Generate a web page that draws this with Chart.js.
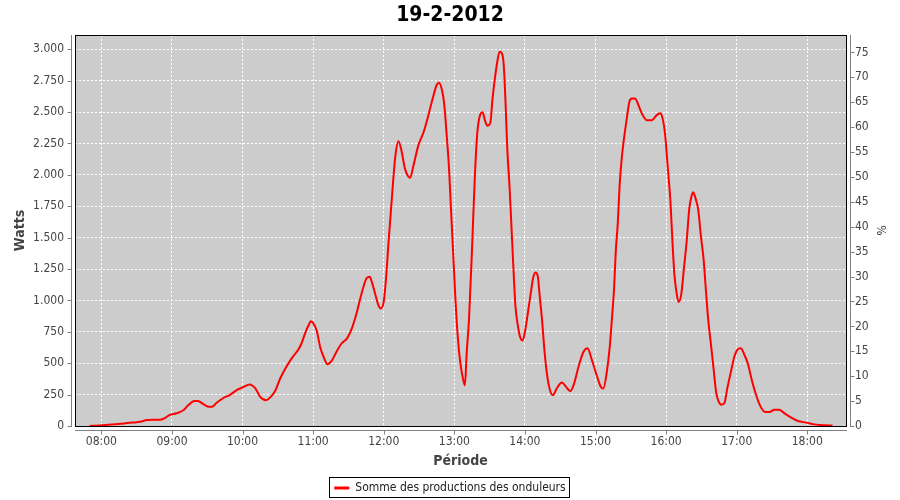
<!DOCTYPE html>
<html>
<head>
<meta charset="utf-8">
<script src="https://cdn.jsdelivr.net/npm/chart.js@4/dist/chart.umd.min.js"></script>
<style>
  html, body { margin: 0; padding: 0; background: #fff; }
</style>
</head>
<body>
<canvas id="chart" width="900" height="500"></canvas>
<script>
const FONT = "'DejaVu Sans Condensed', 'DejaVu Sans', sans-serif";

const chartTitle = "19-2-2012";
const seriesLabel = "Somme des productions des onduleurs";

// time of day in minutes since midnight, and the production read at that time (W)
const minutes = [
  470, 478, 486, 496, 507, 513, 519, 530, 534, 538, 544, 550, 554, 559, 562,
  567, 571, 574, 578, 584, 589, 595, 601, 606, 611, 615, 620, 624, 628, 632,
  638, 643, 647, 650, 653, 656, 658, 660, 663, 666, 669, 672, 676, 680, 684,
  689, 693, 697, 701, 705.5, 708, 710, 712.5, 715.5, 717.5, 720, 722, 724, 726, 728,
  730, 732.5, 735, 738, 741, 742.5, 745, 749.5, 754, 758, 762, 765, 767, 769.5, 771.5,
  773.5, 775.5, 777, 779, 781, 783, 785, 787.5, 789, 790.5, 792.5, 795, 797.5, 799.5, 802,
  804, 806, 808, 810.5, 812.5, 814.5, 816.5, 818.5, 820.5, 822, 823.5, 825, 827, 828.5, 830,
  832, 834, 836, 838, 840.5, 842.5, 845, 847, 849, 851, 852.5, 854.5, 857, 860, 863.7,
  867, 871.4, 875, 878.5, 881.8, 885.5, 889.7, 893.2, 897, 901, 904.5, 906.7, 909.6, 912, 914,
  915.8, 917.2, 919, 920.5, 922.3, 924.6, 926.6, 928.8, 930.8, 933.6, 936.5, 939.3, 943.6, 948, 952,
  955, 957, 959.2, 961.5, 963.7, 965.4, 967.1, 969.2, 970.6, 972.9, 975, 977.6, 979.6, 981.6, 983,
  985.3, 987.3, 989.6, 991.9, 993.8, 995.8, 998, 1000.2, 1002.5, 1004.7, 1007, 1009.5, 1012, 1015.5, 1018,
  1021, 1023.5, 1026.5, 1029.4, 1032.8, 1036.5, 1040, 1043.5, 1047.8, 1052, 1056, 1060.6, 1066.3, 1072, 1079,
  1086, 1094.7, 1101.5
];
const watts = [
  0, 4, 10, 18, 27, 33, 48, 50, 63, 88, 101, 127, 167, 199, 200,
  172, 154, 153, 185, 225, 246, 285, 311, 331, 298, 232, 206, 232, 285, 378,
  484, 555, 602, 655, 734, 800, 834, 820, 760, 628, 549, 492, 523, 594, 655,
  700, 780, 900, 1050, 1178, 1188, 1144, 1060, 960, 936, 990, 1180, 1450, 1700, 1950,
  2160, 2268, 2197, 2051, 1985, 1977, 2064, 2237, 2343, 2476, 2622, 2716, 2734, 2676, 2556,
  2317, 2051, 1759, 1380, 1000, 700, 510, 370, 324, 580, 856, 1400, 1998, 2330, 2480,
  2498, 2436, 2391, 2410, 2609, 2769, 2901, 2981, 2968, 2875, 2583, 2211, 1892, 1600, 1300,
  950, 800, 707, 681, 776, 900, 1060, 1180, 1222, 1190, 1042, 850, 560, 338, 245,
  298, 346, 312, 277, 338, 470, 589, 620, 523, 404, 312, 298, 430, 620, 860,
  1100, 1387, 1626, 1918, 2131, 2317, 2450, 2583, 2609, 2609, 2556, 2490, 2436, 2436, 2476,
  2490, 2450, 2317, 2051, 1785, 1467, 1201, 1042, 988, 1050, 1240, 1484, 1724, 1830, 1862,
  1803, 1724, 1511, 1325, 1085, 846, 660, 470, 270, 194, 170, 181, 300, 450, 553,
  612, 620, 567, 500, 367, 247, 160, 114, 112, 130, 130, 101, 66, 40, 27,
  13, 5, 3
];

const hourTicks = [480, 540, 600, 660, 720, 780, 840, 900, 960, 1020, 1080];
const wattTicks = [0, 250, 500, 750, 1000, 1250, 1500, 1750, 2000, 2250, 2500, 2750, 3000];
const percentTicks = [0, 5, 10, 15, 20, 25, 30, 35, 40, 45, 50, 55, 60, 65, 70, 75];

function hhmm(v) {
  const h = Math.floor(v / 60);
  const m = Math.round(v % 60);
  return String(h).padStart(2, "0") + ":" + String(m).padStart(2, "0");
}

function thousands(v) {
  return String(v).replace(/\B(?=(\d{3})+(?!\d))/g, ".");
}

// JFreeChart look: grey plot, black frame, axis lines set off from the plot
const framePlugin = {
  id: "frame",
  beforeDraw(chart) {
    const { ctx, chartArea: a } = chart;
    ctx.save();
    ctx.fillStyle = "#cccccc";
    ctx.fillRect(a.left, a.top, a.right - a.left, a.bottom - a.top);
    ctx.restore();
  },
  afterDraw(chart) {
    const { ctx, chartArea: a, scales } = chart;
    ctx.save();
    ctx.lineWidth = 1;
    ctx.strokeStyle = "#000000";
    ctx.strokeRect(a.left + 0.5, a.top + 0.5, a.right - a.left, a.bottom - a.top);

    ctx.strokeStyle = "#808080";
    ctx.beginPath();
    const lx = a.left - 3.5, rx = a.right + 4.5, by = a.bottom + 4.5;
    ctx.moveTo(lx, a.top); ctx.lineTo(lx, a.bottom + 1);
    ctx.moveTo(rx, a.top); ctx.lineTo(rx, a.bottom + 1);
    ctx.moveTo(a.left, by); ctx.lineTo(a.right + 1, by);
    scales.y.ticks.forEach((t) => {
      const py = Math.round(scales.y.getPixelForValue(t.value)) + 0.5;
      ctx.moveTo(lx - 4, py); ctx.lineTo(lx, py);
    });
    scales.y2.ticks.forEach((t) => {
      const py = Math.round(scales.y2.getPixelForValue(t.value)) + 0.5;
      ctx.moveTo(rx, py); ctx.lineTo(rx + 4, py);
    });
    scales.x.ticks.forEach((t) => {
      const px = Math.round(scales.x.getPixelForValue(t.value)) + 0.5;
      ctx.moveTo(px, by); ctx.lineTo(px, by + 4);
    });
    ctx.stroke();

    // box round the legend
    const hb = chart.legend.legendHitBoxes[0];
    if (hb) {
      ctx.strokeStyle = "#000000";
      ctx.strokeRect(Math.round(hb.left) - 4.5, Math.round(hb.top) - 4.5,
        Math.round(hb.width) + 9, Math.round(hb.height) + 8);
    }
    ctx.restore();
  },
};

const gridOpts = {
  color: "#ffffff",
  lineWidth: 1,
  drawTicks: false,
};

new Chart(document.getElementById("chart"), {
  type: "line",
  data: {
    datasets: [
      {
        label: seriesLabel,
        data: minutes.map((m, i) => ({ x: m, y: watts[i] })),
        borderColor: "#ff0000",
        backgroundColor: "#ff0000",
        borderWidth: 2,
        pointRadius: 0,
        cubicInterpolationMode: "monotone",
        yAxisID: "y",
      },
    ],
  },
  options: {
    responsive: false,
    animation: false,
    layout: { padding: { left: 0, right: 0, top: 0, bottom: -4 } },
    scales: {
      x: {
        type: "linear",
        min: 457.6,
        max: 1112.9,
        afterBuildTicks: (axis) => { axis.ticks = hourTicks.map((v) => ({ value: v })); },
        afterFit: (scale) => { scale.height = 50; },
        grid: gridOpts,
        border: { display: false, dash: [2, 2] },
        ticks: {
          callback: (v) => hhmm(v),
          color: "#444444",
          padding: 9,
          maxRotation: 0,
          font: { family: FONT, size: 12 },
        },
        title: {
          display: true,
          text: "Période",
          color: "#444444",
          padding: { top: 0, bottom: 6 },
          font: { family: FONT, size: 14, weight: "bold" },
        },
      },
      y: {
        position: "left",
        min: 0,
        max: 3114,
        afterBuildTicks: (axis) => { axis.ticks = wattTicks.map((v) => ({ value: v })); },
        afterFit: (scale) => { scale.width = 75; },
        grid: gridOpts,
        border: { display: false, dash: [2, 2] },
        ticks: {
          callback: (v) => thousands(v),
          color: "#444444",
          padding: 11,
          font: { family: FONT, size: 12 },
        },
        title: {
          display: true,
          text: "Watts",
          color: "#444444",
          padding: { top: 12, bottom: 0 },
          font: { family: FONT, size: 14, weight: "bold" },
        },
      },
      y2: {
        position: "right",
        display: true,
        min: 0,
        max: 78.5,
        afterBuildTicks: (axis) => { axis.ticks = percentTicks.map((v) => ({ value: v })); },
        afterFit: (scale) => { scale.width = 54; },
        grid: { drawOnChartArea: false, drawTicks: false },
        border: { display: false },
        ticks: {
          color: "#444444",
          padding: 9,
          font: { family: FONT, size: 12 },
        },
        title: {
          display: true,
          text: "%",
          color: "#444444",
          padding: { top: 13, bottom: 0 },
          font: { family: FONT, size: 12 },
        },
      },
    },
    plugins: {
      title: {
        display: true,
        text: chartTitle,
        color: "#000000",
        padding: { top: 3, bottom: 6.8 },
        font: { family: FONT, size: 21, weight: "bold" },
      },
      legend: {
        display: true,
        position: "bottom",
        labels: {
          color: "#222222",
          padding: 6,
          usePointStyle: true,
          pointStyle: "line",
          pointStyleWidth: 15,
          font: { family: FONT, size: 12 },
          generateLabels(chart) {
            const items = Chart.defaults.plugins.legend.labels.generateLabels(chart);
            items.forEach((it) => { it.lineWidth = 3; });
            return items;
          },
        },
      },
      tooltip: { enabled: false },
    },
  },
  plugins: [framePlugin],
});
</script>
</body>
</html>
